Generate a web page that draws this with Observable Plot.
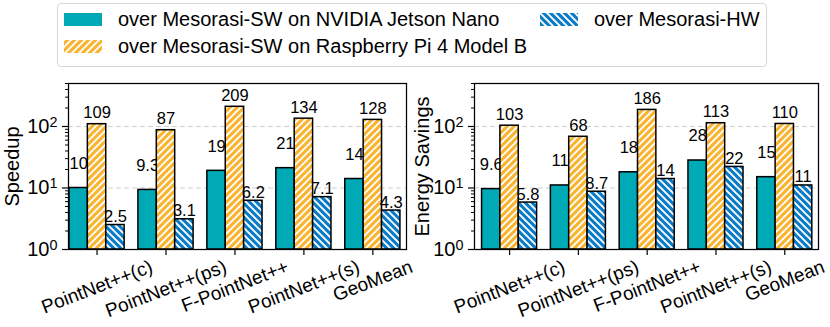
<!DOCTYPE html>
<html><head><meta charset="utf-8">
<script src="https://cdn.jsdelivr.net/npm/d3@7"></script>
<script src="https://cdn.jsdelivr.net/npm/@observablehq/plot@0.6"></script>
<style>
body{margin:0;background:#fff;font-family:"Liberation Sans",Arial,sans-serif;color:#000;}
#wrap{position:relative;width:830px;height:327px;overflow:hidden;}
#legendBox{position:absolute;left:57px;top:3px;width:710px;height:64px;border:1.5px solid #d6d6d6;border-radius:4px;box-sizing:border-box;background:#fff;}
.item{position:absolute;height:24px;white-space:nowrap;}
.sw{position:absolute;left:0;top:6px;}
.lt{position:absolute;top:0;left:54px;font-size:20px;line-height:24px;}
#charts{position:absolute;left:0;top:75px;display:flex;}
#defs{position:absolute;width:0;height:0;}
</style></head>
<body>
<svg id="defs" width="0" height="0">
<defs>
<pattern id="hatchO" patternUnits="userSpaceOnUse" width="7" height="7">
<rect width="7" height="7" fill="#f9b531"/>
<path d="M-1,1 l2,-2 M0,7 l7,-7 M6,8 l2,-2" stroke="#fff" stroke-width="1.9"/>
</pattern>
<pattern id="hatchB" patternUnits="userSpaceOnUse" width="7" height="7">
<rect width="7" height="7" fill="#0a7bc6"/>
<path d="M-1,6 l2,2 M0,0 l7,7 M6,-1 l2,2" stroke="#fff" stroke-width="1.9"/>
</pattern>
</defs>
</svg>
<div id="wrap">
<div id="charts"></div>
<div id="legendBox"></div>
</div>
<script>
const categories = ["PointNet++(c)", "PointNet++(ps)", "F-PointNet++", "PointNet++(s)", "GeoMean"];
const seriesNames = ["over Mesorasi-SW on NVIDIA Jetson Nano", "over Mesorasi-SW on Raspberry Pi 4 Model B", "over Mesorasi-HW"];
const speedupJetson = [10, 9.3, 19, 21, 14];
const speedupRpi = [109, 87, 209, 134, 128];
const speedupHw = [2.5, 3.1, 6.2, 7.1, 4.3];
const energyJetson = [9.6, 11, 18, 28, 15];
const energyRpi = [103, 68, 186, 113, 110];
const energyHw = [5.8, 8.7, 14, 22, 11];
const yMajorTicks = [1, 10, 100];
const yMinorTicks = [2,3,4,5,6,7,8,9,20,30,40,50,60,70,80,90,200,300,400,500];

const fills = ["#00a9b6", "url(#hatchO)", "url(#hatchB)"];
const FONT = "Liberation Sans, Arial, sans-serif";

// legend
const wrap = document.getElementById("wrap");
const legendPos = [[64, 7], [64, 34], [540, 7]];
seriesNames.forEach((name, k) => {
  const it = document.createElement("div");
  it.className = "item";
  it.style.left = legendPos[k][0] + "px";
  it.style.top = legendPos[k][1] + "px";
  it.innerHTML = `<svg class="sw" width="38" height="13"><rect width="38" height="13" fill="${fills[k]}"/></svg>` +
    `<span class="lt">${name}</span>`;
  wrap.appendChild(it);
});

const fmt = v => v >= 10 ? String(Math.round(v)) : v.toFixed(1);
const W = 0.8 / 3;
const canvas = document.createElement("canvas");
const ctx = canvas.getContext("2d");
ctx.font = "19px 'Liberation Sans'";
const ANG = 21;
const labelDy = [-19, -6, -3];

function panel({series, label, width, marginLeft, marginRight, xDomain, labelDx}) {
  const rows = [];
  series.forEach((vals, s) => vals.forEach((v, i) => rows.push({i, s, v, cat: categories[i]})));
  const marks = [
    Plot.ruleY([10, 100], {stroke: "#cfcfcf", strokeDasharray: "5,3", strokeWidth: 1})
  ];
  [0, 1, 2].forEach(s => {
    const data = rows.filter(d => d.s === s);
    marks.push(Plot.rectY(data, {
      x1: d => d.i + (s - 1) * W - W / 2,
      x2: d => d.i + (s - 1) * W + W / 2,
      y1: 1, y2: "v",
      fill: fills[s], stroke: "#000", strokeWidth: 1.5
    }));
    marks.push(Plot.text(data, {
      x: d => d.i + (s - 1) * W, y: "v", text: d => fmt(d.v),
      lineAnchor: "bottom", dy: labelDy[s], fontSize: 16.5, fill: "#000"
    }));
  });
  categories.forEach((c, i) => {
    const w = ctx.measureText(c).width;
    const r = ANG * Math.PI / 180;
    const dy = 9 + (w * Math.sin(r) + 16 * Math.cos(r)) / 2;
    marks.push(Plot.text([c], {x: () => i, y: () => 1, text: d => d, rotate: -ANG,
      textAnchor: "middle", lineAnchor: "middle", dy, fontSize: 19, fill: "#000"}));
  });
  marks.push(
    Plot.frame({stroke: "#000", strokeWidth: 1.25}),
    Plot.axisY({ticks: yMinorTicks, tickSize: 3, tickFormat: () => "", label: null, strokeWidth: 1}),
    Plot.axisY({ticks: yMajorTicks, tickSize: 6, tickPadding: 5, tickFormat: d => String(Math.round(Math.log10(d))), label: null, fontSize: 20, strokeWidth: 1.2}),
    Plot.axisX({ticks: [0, 1, 2, 3, 4], tickSize: 6, tickFormat: () => "", label: null, strokeWidth: 1.2}),
    Plot.text([label], {frameAnchor: "left", textAnchor: "middle", lineAnchor: "middle", rotate: -90, dx: labelDx, fontSize: 20, fill: "#000"})
  );
  const p = Plot.plot({
    width, height: 252, marginTop: 8, marginBottom: 78, marginLeft, marginRight,
    style: {fontFamily: FONT, fontSize: "19px", color: "#000", background: "transparent", overflow: "visible"},
    x: {type: "linear", domain: xDomain, label: null},
    y: {type: "log", domain: [1, 500], label: null},
    marks
  });
  p.querySelectorAll('g[aria-label="y-axis tick label"] text').forEach(t => {
    const e = t.textContent;
    if (e !== "") t.innerHTML = `10<tspan dy="-0.42em" font-size="0.72em">${e}</tspan>`;
  });
  return p;
}

const charts = document.getElementById("charts");
charts.appendChild(panel({series: [speedupJetson, speedupRpi, speedupHw], label: "Speedup",
  width: 415, marginLeft: 68, marginRight: 9, xDomain: [-0.414, 4.488], labelDx: -56}));
charts.appendChild(panel({series: [energyJetson, energyRpi, energyHw], label: "Energy Savings",
  width: 415, marginLeft: 59, marginRight: 12, xDomain: [-0.51, 4.49], labelDx: -52}));
</script>
</body></html>
